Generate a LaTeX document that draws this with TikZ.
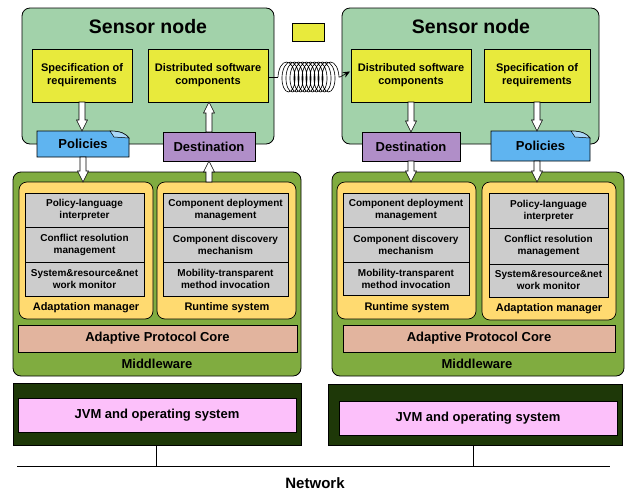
\documentclass[tikz,border=0pt]{standalone}
\usepackage{fontspec}
\setmainfont{Liberation Sans}
\usetikzlibrary{calc,decorations.pathmorphing,arrows.meta}
\definecolor{sngreen}{RGB}{162,210,170}
\definecolor{ylw}{RGB}{232,234,60}
\definecolor{blu}{RGB}{95,180,240}
\definecolor{blulight}{RGB}{170,215,248}
\definecolor{pur}{RGB}{176,142,200}
\definecolor{olive}{RGB}{128,172,64}
\definecolor{gold}{RGB}{255,218,112}
\definecolor{grayb}{RGB}{204,204,204}
\definecolor{salmon}{RGB}{226,180,158}
\definecolor{pinkb}{RGB}{252,192,250}
\definecolor{darkb}{RGB}{30,56,8}
\newcommand\hollowarrow[2]{%
  \draw[harrow] let \p1=#1, \p2=#2, \n1={sign(\y2-\y1)} in
    ({\x1-3pt},{\y1}) -- ({\x1-3pt},{\y2-(\n1)*11pt}) -- ({\x1-5.5pt},{\y2-(\n1)*11pt})
    -- ({\x1},{\y2}) -- ({\x1+5.5pt},{\y2-(\n1)*11pt}) -- ({\x1+3pt},{\y2-(\n1)*11pt})
    -- ({\x1+3pt},{\y1}) -- cycle;}
\newcommand\docshape[1]{%
  \fill[blu,draw=black,line width=0.7pt] (#1.south west) -- (#1.north west)
    -- ($(#1.north east)+(-19,0)$) .. controls ($(#1.north east)+(-8,0)$) and ($(#1.north east)+(-3,3)$) .. ($(#1.north east)+(0,7)$)
    -- (#1.south east) -- cycle;
  \fill[blulight,draw=black,line width=0.5pt] ($(#1.north east)+(-19,0)$) -- ($(#1.north east)+(-15,6)$)
    -- ($(#1.north east)+(0,7)$) .. controls ($(#1.north east)+(-3,3)$) and ($(#1.north east)+(-8,0)$) .. cycle;}
\begin{document}
\begin{tikzpicture}[x=1pt,y=-1pt,
  every node/.style={inner sep=0pt,outer sep=0pt},
  snode/.style={draw=black,line width=0.8pt,fill=sngreen,rounded corners=8pt},
  ybox/.style={draw=black,line width=0.7pt,fill=ylw,align=center,font=\fontsize{11}{13}\selectfont\bfseries},
  title/.style={font=\fontsize{19.5}{22}\selectfont\bfseries},
  lbl/.style={font=\fontsize{13}{15}\selectfont\bfseries},
  slbl/.style={font=\fontsize{11}{13}\selectfont\bfseries},
  destbox/.style={draw=black,line width=0.7pt,fill=pur,font=\fontsize{13}{15}\selectfont\bfseries},
  docbox/.style={font=\fontsize{13}{15}\selectfont\bfseries},
  mware/.style={draw=black,line width=0.8pt,fill=olive,rounded corners=8pt},
  cont/.style={draw=black,line width=0.7pt,fill=gold,rounded corners=8pt},
  gbox/.style={draw=black,line width=0.7pt,fill=grayb,align=center,font=\fontsize{10}{12}\selectfont\bfseries},
  apc/.style={draw=black,line width=0.7pt,fill=salmon,font=\fontsize{13}{15}\selectfont\bfseries},
  darkbox/.style={draw=black,line width=0.7pt,fill=darkb},
  jvm/.style={draw=black,line width=0.7pt,fill=pinkb,font=\fontsize{13}{15}\selectfont\bfseries},
  harrow/.style={draw=black,line width=0.6pt,fill=white},
  wire/.style={draw=black,line width=1pt}]
\useasboundingbox (0,0) rectangle (631,493);

% ---------- sensor nodes ----------
\node[snode,minimum width=252pt,minimum height=136pt] (sn1) at (148,76) {};
\node[snode,minimum width=257pt,minimum height=136pt] (sn2) at (470.5,76) {};
\node[title] (t1) at (148,27) {Sensor node};
\node[title] (t2) at (471,27) {Sensor node};

\node[ybox,minimum width=100pt,minimum height=53pt] (spec1) at (82,75.5) {Specification of\\requirements};
\node[ybox,minimum width=120pt,minimum height=53pt] (ds1) at (208,75.5) {Distributed software\\components};
\node[ybox,minimum width=120pt,minimum height=53pt] (ds2) at (411,75.5) {Distributed software\\components};
\node[ybox,minimum width=106pt,minimum height=53pt] (spec2) at (537,75.5) {Specification of\\requirements};
\node[ybox,minimum width=32pt,minimum height=18pt] (legend) at (308,32) {};

% ---------- coil ----------
\coordinate (c0) at (278,77);
\coordinate (c1) at (340,77);
\draw[line width=0.6pt] (ds1.east |- c0) -- (c0);
\draw[line width=0.6pt,decorate,decoration={coil,amplitude=15pt,segment length=4pt,aspect=0.5}] (c0) -- (c1);
\draw[line width=0.6pt,-{Stealth[length=7pt,width=6pt]}] (c1) -- ($(ds2.west)+(-1,-4)$);

% ---------- policies / destination ----------
\path node[minimum width=92pt,minimum height=26pt] (pol1s) at (83,144) {};
\docshape{pol1s}
\node[docbox] (pol1) at (pol1s.center) {Policies};
\node[destbox,minimum width=92pt,minimum height=29pt] (dest1) at (209,146.5) {Destination};
\node[destbox,minimum width=98pt,minimum height=29pt] (dest2) at (411,146.5) {Destination};
\path node[minimum width=99pt,minimum height=30pt] (pol2s) at (540.5,146) {};
\docshape{pol2s}
\node[docbox] (pol2) at (pol2s.center) {Policies};

% ---------- middleware ----------
\node[mware,minimum width=288pt,minimum height=204pt] (mw1) at (157,274) {};
\node[mware,minimum width=292pt,minimum height=204pt] (mw2) at (478,274) {};

\node[cont,minimum width=134pt,minimum height=137pt] (am1) at (86,250.5) {};
\node[cont,minimum width=139pt,minimum height=137pt] (rs1) at (226.5,250.5) {};
\node[cont,minimum width=139pt,minimum height=137pt] (rs2) at (406.5,250.5) {};
\node[cont,minimum width=134pt,minimum height=138pt] (am2) at (549,251) {};

\node[gbox,minimum width=119pt,minimum height=34pt] (am1a) at (84.5,210) {Policy-language\\interpreter};
\node[gbox,minimum width=119pt,minimum height=35pt] (am1b) at (84.5,244.5) {Conflict resolution\\management};
\node[gbox,minimum width=119pt,minimum height=34pt] (am1c) at (84.5,279) {System\&resource\&net\\work monitor};
\node[gbox,minimum width=125pt,minimum height=34pt] (rs1a) at (225.5,210) {Component deployment\\management};
\node[gbox,minimum width=125pt,minimum height=35pt] (rs1b) at (225.5,244.5) {Component discovery\\mechanism};
\node[gbox,minimum width=125pt,minimum height=34pt] (rs1c) at (225.5,279) {Mobility-transparent\\method invocation};
\node[gbox,minimum width=126pt,minimum height=34pt] (rs2a) at (406,210) {Component deployment\\management};
\node[gbox,minimum width=126pt,minimum height=35pt] (rs2b) at (406,244.5) {Component discovery\\mechanism};
\node[gbox,minimum width=126pt,minimum height=33pt] (rs2c) at (406,278.5) {Mobility-transparent\\method invocation};
\node[gbox,minimum width=119pt,minimum height=35pt] (am2a) at (548.5,210.5) {Policy-language\\interpreter};
\node[gbox,minimum width=119pt,minimum height=36pt] (am2b) at (548.5,246) {Conflict resolution\\management};
\node[gbox,minimum width=119pt,minimum height=33pt] (am2c) at (548.5,280.5) {System\&resource\&net\\work monitor};

\node[slbl] (am1l) at (86,308) {Adaptation manager};
\node[slbl] (rs1l) at (227,308) {Runtime system};
\node[slbl] (rs2l) at (407,308) {Runtime system};
\node[slbl] (am2l) at (549,309) {Adaptation manager};

\node[apc,minimum width=279pt,minimum height=27pt] (apc1) at (157.5,338.5) {Adaptive Protocol Core};
\node[apc,minimum width=272pt,minimum height=27pt] (apc2) at (479,338.5) {Adaptive Protocol Core};
\node[lbl] (mwl1) at (157,364) {Middleware};
\node[lbl] (mwl2) at (477,364) {Middleware};

% ---------- JVM ----------
\node[darkbox,minimum width=288pt,minimum height=62pt] (os1) at (157,414) {};
\node[darkbox,minimum width=294pt,minimum height=61pt] (os2) at (475,414.5) {};
\node[jvm,minimum width=278pt,minimum height=34pt] (jvm1) at (157,415) {JVM and operating system};
\node[jvm,minimum width=278pt,minimum height=34pt] (jvm2) at (478,418) {JVM and operating system};

% ---------- network ----------
\coordinate (nL) at (17,466);
\coordinate (nR) at (610,466);
\draw[wire] (nL) -- (nR);
\coordinate (tap1) at (156,466);
\coordinate (tap2) at (473,466);
\draw[wire] (tap1 |- os1.south) -- (tap1);
\draw[wire] (tap2 |- os2.south) -- (tap2);
\node[font=\fontsize{15}{17}\selectfont\bfseries] (net) at (315,483) {Network};

% ---------- hollow arrows ----------
\hollowarrow{(spec1.south)}{(spec1.south |- pol1s.north)}
\hollowarrow{(dest1.north)}{(dest1.north |- ds1.south)}
\hollowarrow{(pol1s.south)}{(pol1s.south |- am1.north)}
\hollowarrow{(dest1.south |- rs1.north)}{(dest1.south)}
\hollowarrow{(ds2.south)}{(ds2.south |- dest2.north)}
\hollowarrow{(spec2.south)}{(spec2.south |- pol2s.north)}
\hollowarrow{(dest2.south)}{(dest2.south |- rs2.north)}
\hollowarrow{(pol2s.south -| spec2.south)}{(spec2.south |- am2.north)}
\end{tikzpicture}
\end{document}
